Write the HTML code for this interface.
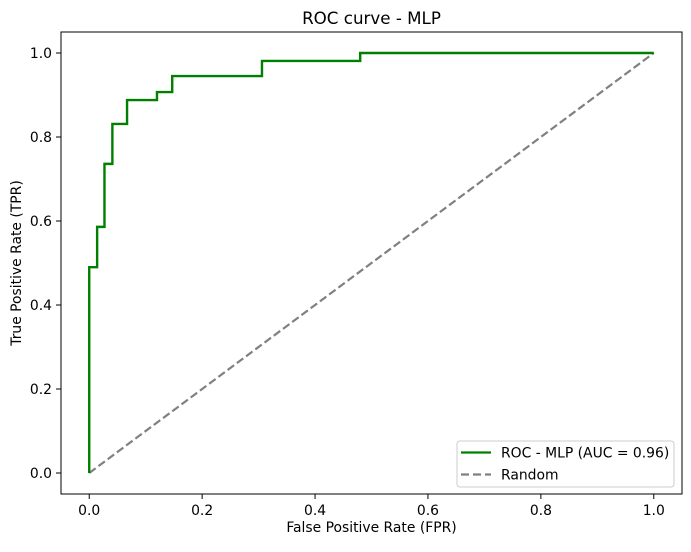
<!DOCTYPE html>
<html><head><meta charset="utf-8"><style>
body{margin:0;background:#fff}
svg text{font-family:"DejaVu Sans","Liberation Sans",sans-serif;fill:#000}
</style></head><body>
<svg id="chart" width="691" height="547" xmlns="http://www.w3.org/2000/svg">
<rect width="691" height="547" fill="#fff"/>
<text x="371.5" y="24" font-size="16.7" text-anchor="middle">ROC curve - MLP</text>
<g id="ticks"></g>
<g id="plot"></g>
<rect x="61" y="32" width="621" height="462" fill="none" stroke="#000" stroke-width="1"/>
<text x="371.5" y="532" font-size="13.9" text-anchor="middle">False Positive Rate (FPR)</text>
<text transform="translate(21,263) rotate(-90)" font-size="13.9" text-anchor="middle">True Positive Rate (TPR)</text>
<g>
<rect x="457" y="441" width="217" height="46" rx="3" fill="#fff" fill-opacity="0.8" stroke="#ccc" stroke-width="1"/>
<line x1="461" y1="452.5" x2="491" y2="452.5" stroke="#008000" stroke-width="2.2"/>
<text x="501" y="457.5" font-size="13.9">ROC - MLP (AUC = 0.96)</text>
<line x1="461" y1="474.5" x2="491" y2="474.5" stroke="#808080" stroke-width="2.2" stroke-dasharray="8,4"/>
<text x="501" y="479.5" font-size="13.9">Random</text>
</g>
</svg>
<script>
const fprValues = [0, 0, 0.014, 0.014, 0.027, 0.027, 0.041, 0.041, 0.067, 0.067, 0.12, 0.12, 0.147, 0.147, 0.306, 0.306, 0.48, 0.48, 1];
const tprValues = [0, 0.49, 0.49, 0.586, 0.586, 0.736, 0.736, 0.831, 0.831, 0.888, 0.888, 0.907, 0.907, 0.945, 0.945, 0.981, 0.981, 1, 1];
const randomX = [0, 1];
const randomY = [0, 1];
const xTicks = [0, 0.2, 0.4, 0.6, 0.8, 1.0];
const yTicks = [0, 0.2, 0.4, 0.6, 0.8, 1.0];
const tickLabels = ["0.0", "0.2", "0.4", "0.6", "0.8", "1.0"];

const X0 = 61, X1 = 682, Y0 = 494, Y1 = 32, DMIN = -0.05, DMAX = 1.05;
const sx = v => X0 + (v - DMIN) / (DMAX - DMIN) * (X1 - X0);
const sy = v => Y0 - (v - DMIN) / (DMAX - DMIN) * (Y0 - Y1);
const NS = "http://www.w3.org/2000/svg";
const ticks = document.getElementById('ticks');
const plot = document.getElementById('plot');

xTicks.forEach((t, i) => {
  const l = document.createElementNS(NS, 'line');
  
  
  l.setAttribute('x1', sx(t)); l.setAttribute('x2', sx(t));
  l.setAttribute('y1', Y0); l.setAttribute('y2', Y0 + 5);
  l.setAttribute('stroke', '#000');
  ticks.appendChild(l);
  const tx = document.createElementNS(NS, 'text');
  
  
  tx.setAttribute('x', sx(t)); tx.setAttribute('y', Y0 + 21);
  tx.setAttribute('font-size', '13.9'); tx.setAttribute('text-anchor', 'middle');
  tx.textContent = tickLabels[i];
  ticks.appendChild(tx);
});
yTicks.forEach((t, i) => {
  const l = document.createElementNS(NS, 'line');
  
  
  l.setAttribute('x1', X0 - 5); l.setAttribute('x2', X0);
  l.setAttribute('y1', sy(t)); l.setAttribute('y2', sy(t));
  l.setAttribute('stroke', '#000');
  ticks.appendChild(l);
  const tx = document.createElementNS(NS, 'text');
  
  
  tx.setAttribute('x', X0 - 9); tx.setAttribute('y', sy(t) + 5);
  tx.setAttribute('font-size', '13.9'); tx.setAttribute('text-anchor', 'end');
  tx.textContent = tickLabels[i];
  ticks.appendChild(tx);
});

const rnd = document.createElementNS(NS, 'polyline');


rnd.setAttribute('points', randomX.map((x, i) => sx(x) + ',' + sy(randomY[i])).join(' '));
rnd.setAttribute('fill', 'none'); rnd.setAttribute('stroke', '#808080');
rnd.setAttribute('stroke-width', '2.2'); rnd.setAttribute('stroke-dasharray', '8,3.5');
plot.appendChild(rnd);

const roc = document.createElementNS(NS, 'polyline');


roc.setAttribute('points', fprValues.map((x, i) => sx(x) + ',' + sy(tprValues[i])).join(' '));
roc.setAttribute('fill', 'none'); roc.setAttribute('stroke', '#008000');
roc.setAttribute('stroke-width', '2.4');
plot.appendChild(roc);
</script>
</body></html>
